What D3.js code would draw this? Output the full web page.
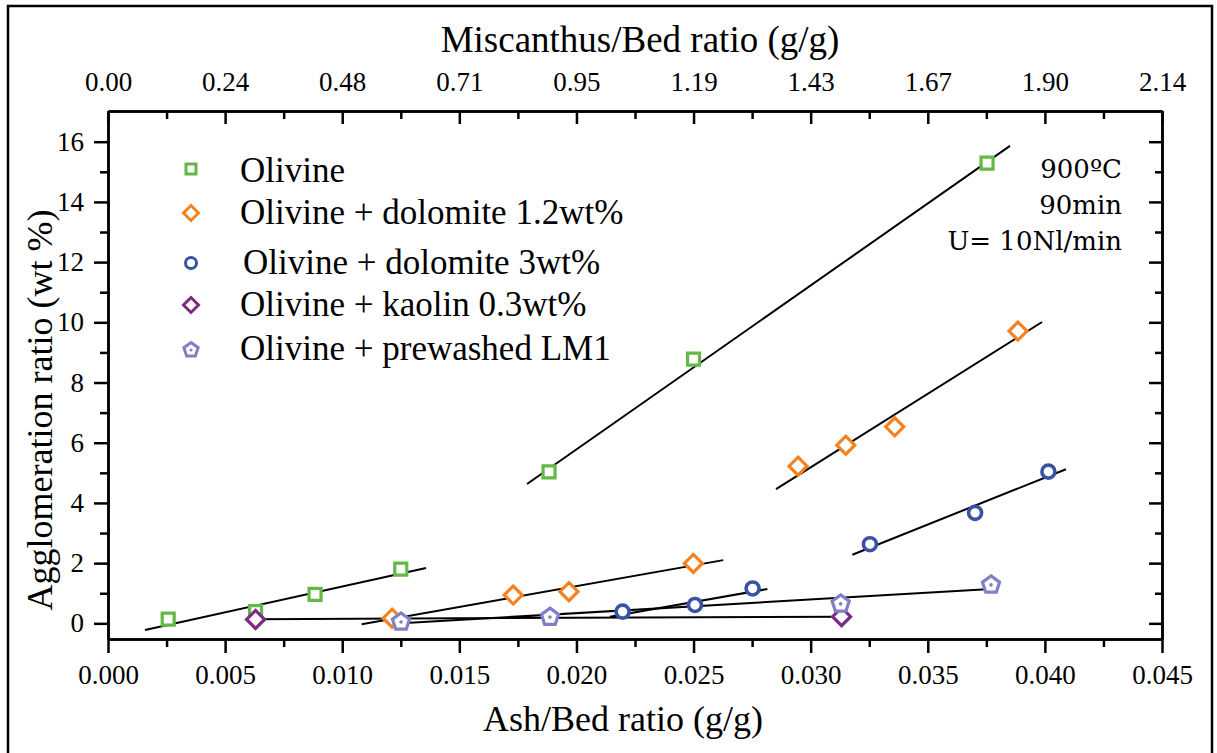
<!DOCTYPE html>
<html><head><meta charset="utf-8">
<script src="https://cdn.jsdelivr.net/npm/d3@7"></script>
<style>
html,body{margin:0;padding:0;background:#fff;}
svg text{font-family:"Liberation Serif","Times New Roman",serif;fill:#000;}
</style></head>
<body><svg id="c" width="1217" height="753"></svg>
<script>
// ---- data ----
const seriesNames = ["Olivine","Olivine + dolomite 1.2wt%","Olivine + dolomite 3wt%","Olivine + kaolin 0.3wt%","Olivine + prewashed LM1"];
const olivineX = [0.00257,0.0063,0.00884,0.0125,0.01883,0.0250,0.03753];
const olivineY = [0.14,0.39,0.96,1.80,5.03,8.78,15.29];
const dolo12X = [0.01213,0.0173,0.01968,0.02499,0.02946,0.0315,0.03359,0.03885];
const dolo12Y = [0.17,0.94,1.05,1.99,5.22,5.92,6.53,9.71];
const dolo3X = [0.02197,0.02506,0.02752,0.03253,0.03702,0.04015];
const dolo3Y = [0.39,0.61,1.16,2.63,3.67,5.04];
const kaolinX = [0.0063,0.03132];
const kaolinY = [0.13,0.22];
const lm1X = [0.01251,0.01887,0.03128,0.0377];
const lm1Y = [0.08,0.24,0.68,1.31];
// trend lines: [x1, y1, x2, y2]
const fitLines = [
  [0.00158,-0.22,0.01358,1.84],
  [0.01789,4.63,0.03851,15.86],
  [0.01083,-0.03,0.02627,2.10],
  [0.02852,4.46,0.03988,10.01],
  [0.02143,0.22,0.02815,1.14],
  [0.03178,2.28,0.0409,5.12],
  [0.0063,0.14,0.0313,0.22],
  [0.01251,0.0,0.0377,1.14]
];
const xTicks = [0,0.005,0.010,0.015,0.020,0.025,0.030,0.035,0.040,0.045];
const topTickLabels = ["0.00","0.24","0.48","0.71","0.95","1.19","1.43","1.67","1.90","2.14"];
const yTicks = [0,2,4,6,8,10,12,14,16];
const notes = ["900ºC","90min","U= 10Nl/min"];
const colors = ["#62b946","#f58220","#3953a4","#7d2a83","#8080c6"];
const shapes = ["square","diamond","circle","diamond","pentagon"];

// ---- layout ----
const svg = d3.select("#c");
const L=108,R=1162,T=111,B=639;
const x = d3.scaleLinear().domain([0,0.045]).range([L,R]);
const y = d3.scaleLinear().domain([-0.52,17.02]).range([B,T]);

svg.append("rect").attr("x",8).attr("y",6).attr("width",1204).attr("height",780)
  .attr("fill","none").attr("stroke","#000").attr("stroke-width",2.5);

const minorX = d3.range(0,9).map(i=>0.0025+i*0.005);
const minorY = d3.range(0,8).map(i=>1+i*2);

function styleAxis(g){
  g.attr("font-size",null).attr("font-family",null);
  g.selectAll("path").attr("stroke","#000").attr("stroke-width",2.5);
  g.selectAll("line").attr("stroke","#000").attr("stroke-width",2.5);
  g.selectAll("text").style("font-family",'"Liberation Serif",serif').style("font-size","27px");
}
// bottom
svg.append("g").attr("transform",`translate(0,${B})`)
  .call(d3.axisBottom(x).tickValues(xTicks).tickFormat(d3.format(".3f")).tickSizeInner(14).tickSizeOuter(0).tickPadding(12))
  .call(styleAxis);
svg.append("g").attr("transform",`translate(0,${B})`)
  .call(d3.axisBottom(x).tickValues(minorX).tickFormat("").tickSizeInner(8).tickSizeOuter(0))
  .call(styleAxis);
// top
svg.append("g").attr("transform",`translate(0,${T})`)
  .call(d3.axisTop(x).tickValues(xTicks).tickFormat((d,i)=>topTickLabels[i]).tickSizeInner(-13).tickSizeOuter(0).tickPadding(20))
  .call(styleAxis);
svg.append("g").attr("transform",`translate(0,${T})`)
  .call(d3.axisTop(x).tickValues(minorX).tickFormat("").tickSizeInner(-8).tickSizeOuter(0))
  .call(styleAxis);
// left
svg.append("g").attr("transform",`translate(${L},0)`)
  .call(d3.axisLeft(y).tickValues(yTicks).tickFormat(d3.format("d")).tickSizeInner(14).tickSizeOuter(0).tickPadding(10))
  .call(styleAxis);
svg.append("g").attr("transform",`translate(${L},0)`)
  .call(d3.axisLeft(y).tickValues(minorY).tickFormat("").tickSizeInner(8).tickSizeOuter(0))
  .call(styleAxis);
// right
svg.append("g").attr("transform",`translate(${R},0)`)
  .call(d3.axisRight(y).tickValues(yTicks).tickFormat("").tickSizeInner(-13).tickSizeOuter(0))
  .call(styleAxis);
svg.append("g").attr("transform",`translate(${R},0)`)
  .call(d3.axisRight(y).tickValues(minorY).tickFormat("").tickSizeInner(-7).tickSizeOuter(0))
  .call(styleAxis);

// titles
svg.append("text").attr("x",640).attr("y",52).attr("text-anchor","middle")
  .style("font-size","37px").text("Miscanthus/Bed ratio (g/g)");
svg.append("text").attr("x",623).attr("y",731).attr("text-anchor","middle")
  .style("font-size","36px").text("Ash/Bed ratio (g/g)");
svg.append("text").attr("transform","translate(52,410) rotate(-90)").attr("text-anchor","middle")
  .style("font-size","36px").text("Agglomeration ratio (wt %)");

// fit lines
svg.append("g").selectAll("line").data(fitLines).join("line")
  .attr("x1",d=>x(d[0])).attr("y1",d=>y(d[1])).attr("x2",d=>x(d[2])).attr("y2",d=>y(d[3]))
  .attr("stroke","#000").attr("stroke-width",2);

// markers
function markerPath(shape,s){
  if(shape==="square") return d3.symbol(d3.symbolSquare, s*s)();
  if(shape==="circle") return d3.symbol(d3.symbolCircle, Math.PI*(s/2)*(s/2))();
  if(shape==="diamond"){const h=s/2;return `M0,${-h}L${h},0L0,${h}L${-h},0Z`;}
  if(shape==="pentagon"){
    const r=s/2; const pts=d3.range(5).map(i=>{const a=-Math.PI/2+i*2*Math.PI/5;return [r*Math.cos(a),r*Math.sin(a)+1];});
    return "M"+pts.map(p=>p.join(",")).join("L")+"Z";
  }
}
const allX=[olivineX,dolo12X,dolo3X,kaolinX,lm1X];
const allY=[olivineY,dolo12Y,dolo3Y,kaolinY,lm1Y];
const sizes={square:12,diamond:18,circle:13,pentagon:18};
allX.forEach((xs,si)=>{
  const pts=xs.map((v,i)=>[v,allY[si][i]]);
  svg.append("g").selectAll("path").data(pts).join("path")
    .attr("transform",d=>`translate(${x(d[0])},${y(d[1])})`)
    .attr("d",markerPath(shapes[si],sizes[shapes[si]]))
    .attr("fill","#fff").attr("stroke",colors[si]).attr("stroke-width",shapes[si]==="circle"?3.6:3.2);
  if(shapes[si]==="pentagon"){
    svg.append("g").selectAll("circle").data(pts).join("circle")
      .attr("cx",d=>x(d[0])).attr("cy",d=>y(d[1])+1).attr("r",1.8).attr("fill",colors[si]);
  }
});

// legend
const legY=[169,213,263,305,349];
const legTextY=[182,224,274,316,360];
const legSizes={square:10,diamond:15,circle:11,pentagon:15};
seriesNames.forEach((n,i)=>{
  svg.append("path").attr("transform",`translate(191,${legY[i]})`)
    .attr("d",markerPath(shapes[i],legSizes[shapes[i]]))
    .attr("fill","#fff").attr("stroke",colors[i]).attr("stroke-width",3);
  if(shapes[i]==="pentagon") svg.append("circle").attr("cx",191).attr("cy",legY[i]+1).attr("r",1.5).attr("fill",colors[i]);
  svg.append("text").attr("x",i===2?243:240).attr("y",legTextY[i]).style("font-size","35px").text(n);
});

// notes
notes.forEach((t,i)=>{
  svg.append("text").attr("x",1122).attr("y",178+i*36).attr("text-anchor","end")
    .style("font-family",'"DejaVu Serif",serif').style("font-size","26px").text(t);
});
</script></body></html>
